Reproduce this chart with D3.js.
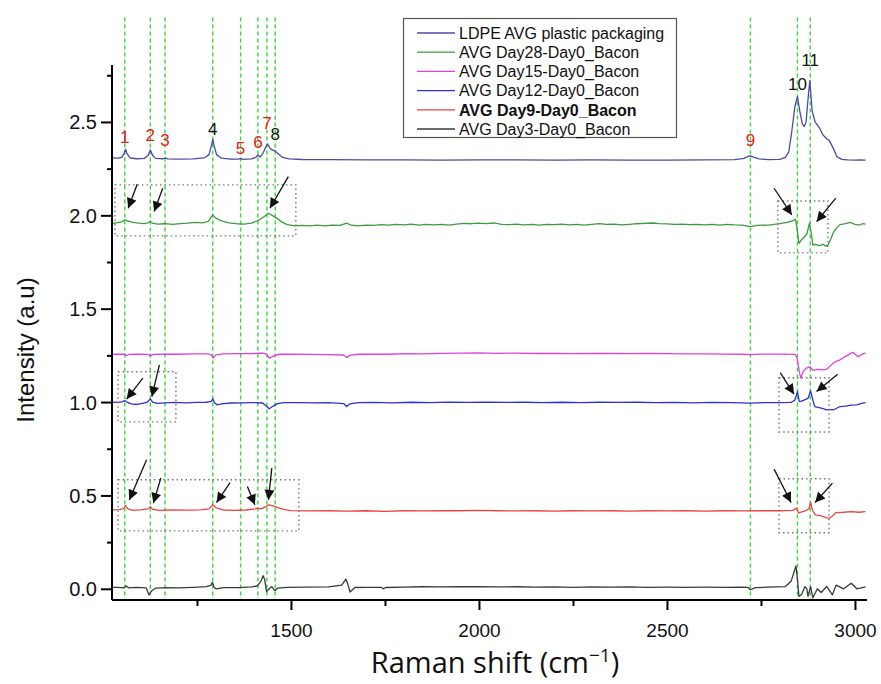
<!DOCTYPE html>
<html>
<head>
<meta charset="utf-8">
<script src="https://cdn.jsdelivr.net/npm/d3@7"></script>
<style>
  body { margin: 0; background: #fff; }
  svg text { font-family: Arial, "Liberation Sans", sans-serif; }
</style>
</head>
<body>
<svg id="chart" width="881" height="684"></svg>
<script>
// spectra: [wavenumber, intensity]
var ldpe = [[1024,2.308],[1040,2.306],[1050,2.31],[1056,2.33],[1060,2.354],[1064,2.33],[1072,2.307],[1090,2.303],[1110,2.305],[1120,2.32],[1126,2.35],[1132,2.32],[1140,2.305],[1160,2.303],[1166,2.308],[1172,2.302],[1200,2.301],[1240,2.302],[1270,2.308],[1282,2.325],[1288,2.37],[1292,2.407],[1296,2.37],[1302,2.325],[1315,2.306],[1340,2.301],[1360,2.301],[1366,2.304],[1372,2.3],[1395,2.302],[1406,2.31],[1412,2.323],[1418,2.312],[1426,2.335],[1434,2.37],[1438,2.382],[1444,2.36],[1450,2.35],[1458,2.345],[1466,2.33],[1478,2.31],[1495,2.302],[1530,2.299],[1600,2.298],[1700,2.297],[1800,2.297],[1900,2.296],[2000,2.297],[2100,2.297],[2200,2.296],[2300,2.297],[2400,2.296],[2500,2.296],[2600,2.297],[2680,2.298],[2705,2.305],[2715,2.315],[2722,2.318],[2730,2.312],[2745,2.302],[2770,2.298],[2800,2.3],[2815,2.31],[2824,2.34],[2832,2.45],[2840,2.58],[2847,2.636],[2853,2.56],[2860,2.49],[2865,2.475],[2870,2.5],[2875,2.62],[2880,2.721],[2886,2.56],[2894,2.5],[2905,2.47],[2915,2.43],[2925,2.41],[2932,2.4],[2942,2.36],[2952,2.314],[2965,2.3],[2980,2.297],[3000,2.296],[3015,2.297],[3028,2.296]];

var day28 = [[1024,1.955],[1035,1.96],[1050,1.965],[1058,1.975],[1066,1.97],[1080,1.962],[1095,1.958],[1110,1.955],[1120,1.96],[1126,1.967],[1132,1.958],[1145,1.953],[1165,1.955],[1185,1.952],[1205,1.956],[1225,1.958],[1245,1.962],[1265,1.96],[1280,1.968],[1292,2.002],[1300,1.985],[1315,1.97],[1335,1.96],[1355,1.955],[1375,1.953],[1395,1.958],[1415,1.975],[1430,1.995],[1440,2.011],[1450,2.0],[1462,1.985],[1475,1.965],[1490,1.95],[1510,1.944],[1530,1.946],[1550,1.943],[1570,1.947],[1590,1.944],[1610,1.948],[1630,1.946],[1648,1.958],[1660,1.947],[1680,1.944],[1700,1.948],[1720,1.946],[1740,1.95],[1760,1.947],[1780,1.951],[1800,1.949],[1820,1.953],[1840,1.948],[1860,1.952],[1880,1.949],[1900,1.951],[1920,1.948],[1940,1.953],[1960,1.957],[1980,1.955],[2000,1.958],[2020,1.956],[2040,1.959],[2060,1.952],[2080,1.95],[2100,1.953],[2120,1.949],[2140,1.951],[2160,1.948],[2180,1.952],[2200,1.95],[2220,1.953],[2240,1.949],[2260,1.951],[2280,1.948],[2300,1.952],[2320,1.955],[2340,1.951],[2360,1.953],[2380,1.949],[2400,1.952],[2420,1.955],[2440,1.957],[2460,1.959],[2480,1.956],[2500,1.954],[2520,1.951],[2540,1.953],[2560,1.95],[2580,1.952],[2600,1.949],[2620,1.951],[2640,1.948],[2660,1.951],[2680,1.949],[2700,1.948],[2722,1.94],[2740,1.946],[2770,1.948],[2800,1.955],[2820,1.962],[2835,1.972],[2842,1.979],[2846,1.93],[2851,1.85],[2858,1.87],[2866,1.885],[2872,1.9],[2879,1.958],[2884,1.9],[2888,1.84],[2895,1.845],[2905,1.838],[2915,1.845],[2922,1.835],[2928,1.84],[2935,1.87],[2942,1.905],[2950,1.93],[2960,1.95],[2975,1.955],[2987,1.962],[3000,1.952],[3013,1.948],[3020,1.955],[3028,1.953]];

var day15 = [[1024,1.255],[1040,1.256],[1058,1.257],[1062,1.248],[1068,1.255],[1090,1.257],[1120,1.255],[1126,1.247],[1134,1.255],[1160,1.257],[1200,1.256],[1240,1.258],[1280,1.258],[1288,1.252],[1293,1.235],[1300,1.253],[1320,1.258],[1360,1.259],[1400,1.26],[1425,1.262],[1436,1.255],[1442,1.235],[1450,1.242],[1458,1.25],[1470,1.256],[1500,1.256],[1550,1.255],[1600,1.254],[1640,1.252],[1648,1.238],[1656,1.25],[1680,1.256],[1720,1.257],[1760,1.256],[1800,1.259],[1850,1.258],[1900,1.261],[1950,1.262],[2000,1.263],[2050,1.261],[2100,1.262],[2150,1.26],[2200,1.261],[2250,1.259],[2300,1.26],[2350,1.261],[2400,1.259],[2450,1.26],[2500,1.259],[2550,1.258],[2600,1.258],[2650,1.257],[2700,1.256],[2722,1.254],[2750,1.257],[2800,1.257],[2840,1.255],[2846,1.24],[2852,1.16],[2856,1.128],[2862,1.163],[2870,1.18],[2880,1.19],[2888,1.17],[2900,1.175],[2915,1.172],[2925,1.176],[2935,1.195],[2942,1.208],[2950,1.218],[2960,1.226],[2975,1.245],[2990,1.262],[2995,1.266],[3008,1.243],[3018,1.255],[3028,1.263]];

var day12 = [[1024,1.0],[1040,0.998],[1052,1.002],[1058,1.008],[1064,1.0],[1075,0.99],[1090,0.987],[1105,0.993],[1118,1.0],[1126,1.017],[1132,1.0],[1145,0.993],[1165,0.996],[1190,0.998],[1220,0.996],[1250,0.998],[1275,0.999],[1288,1.004],[1292,1.017],[1297,0.995],[1304,0.985],[1315,0.99],[1340,0.995],[1370,0.996],[1400,0.997],[1425,0.995],[1436,0.975],[1442,0.964],[1450,0.975],[1458,0.985],[1465,0.992],[1480,0.997],[1520,0.997],[1560,0.996],[1600,0.997],[1640,0.992],[1648,0.976],[1656,0.99],[1680,0.997],[1720,0.998],[1770,0.996],[1820,0.999],[1870,0.997],[1920,1.0],[1970,0.998],[2020,1.0],[2070,0.998],[2120,0.999],[2170,0.997],[2220,0.999],[2270,0.997],[2320,0.999],[2370,0.998],[2420,0.999],[2470,0.997],[2520,0.998],[2570,0.996],[2620,0.998],[2670,0.997],[2722,0.994],[2760,0.997],[2800,0.997],[2830,0.998],[2840,1.01],[2847,1.056],[2852,1.003],[2858,1.005],[2866,1.012],[2875,1.02],[2882,1.06],[2888,1.01],[2893,0.976],[2905,0.97],[2915,0.965],[2925,0.958],[2935,0.96],[2945,0.96],[2960,0.976],[2975,0.978],[2990,0.984],[3005,0.985],[3020,0.994],[3028,0.997]];

var day9 = [[1024,0.423],[1045,0.424],[1055,0.43],[1060,0.446],[1066,0.428],[1080,0.42],[1100,0.423],[1120,0.428],[1126,0.44],[1132,0.425],[1150,0.42],[1180,0.422],[1220,0.421],[1260,0.423],[1282,0.428],[1292,0.45],[1300,0.435],[1320,0.422],[1350,0.42],[1380,0.422],[1405,0.428],[1412,0.432],[1420,0.428],[1434,0.44],[1440,0.45],[1450,0.445],[1465,0.435],[1480,0.425],[1500,0.419],[1540,0.417],[1600,0.418],[1650,0.416],[1700,0.418],[1750,0.415],[1800,0.418],[1850,0.417],[1900,0.419],[1950,0.418],[2000,0.42],[2050,0.418],[2100,0.417],[2150,0.418],[2200,0.416],[2250,0.418],[2300,0.417],[2350,0.418],[2400,0.416],[2450,0.418],[2500,0.417],[2550,0.418],[2600,0.416],[2650,0.418],[2700,0.417],[2750,0.418],[2800,0.418],[2835,0.42],[2845,0.432],[2850,0.405],[2856,0.41],[2870,0.418],[2878,0.43],[2882,0.462],[2887,0.42],[2895,0.396],[2910,0.39],[2925,0.38],[2932,0.378],[2940,0.39],[2950,0.408],[2970,0.41],[2990,0.413],[3010,0.41],[3028,0.413]];

var day3 = [[1024,0.008],[1040,0.008],[1056,0.005],[1062,0.015],[1068,0.005],[1090,0.008],[1115,0.005],[1122,-0.032],[1130,-0.01],[1140,0.004],[1170,0.006],[1200,0.005],[1240,0.008],[1275,0.012],[1288,0.02],[1291,0.035],[1296,0.005],[1302,0.0],[1320,0.006],[1360,0.006],[1395,0.01],[1410,0.015],[1420,0.04],[1426,0.07],[1430,0.05],[1435,-0.015],[1442,0.0],[1449,0.012],[1457,-0.01],[1465,0.004],[1490,0.008],[1540,0.009],[1600,0.01],[1635,0.02],[1646,0.052],[1652,0.02],[1657,-0.017],[1670,0.007],[1700,0.008],[1740,0.008],[1745,0.0],[1752,0.007],[1800,0.009],[1850,0.011],[1900,0.01],[1950,0.012],[2000,0.011],[2050,0.01],[2100,0.011],[2150,0.009],[2200,0.01],[2250,0.008],[2300,0.01],[2350,0.009],[2400,0.01],[2450,0.008],[2500,0.009],[2550,0.008],[2600,0.009],[2650,0.008],[2700,0.009],[2715,0.008],[2722,-0.005],[2735,0.006],[2790,0.01],[2815,0.012],[2830,0.04],[2838,0.09],[2843,0.123],[2847,0.05],[2851,-0.041],[2858,-0.03],[2867,0.012],[2872,0.0],[2875,-0.04],[2882,0.012],[2888,-0.048],[2900,0.0],[2910,-0.02],[2925,0.012],[2940,-0.032],[2950,0.02],[2970,0.0],[2990,0.03],[3005,0.0],[3028,0.01]];

var seriesNames = ["LDPE AVG plastic packaging", "AVG Day28-Day0_Bacon", "AVG Day15-Day0_Bacon",
  "AVG Day12-Day0_Bacon", "AVG Day9-Day0_Bacon", "AVG Day3-Day0_Bacon"];
var seriesColors = ["#4b4ba3", "#3c9b3c", "#e040e0", "#3030d0", "#e84343", "#3a3a3a"];

// band positions (cm-1) and their numbers
var bandPos = [1058, 1126, 1165, 1292, 1366, 1412, 1436, 1458, 2722, 2847, 2881];
var bandLabels = ["1", "2", "3", "4", "5", "6", "7", "8", "9", "10", "11"];
var bandLabelY = [2.388, 2.398, 2.372, 2.431, 2.329, 2.361, 2.463, 2.404, 2.372, 2.672, 2.80];
var bandLabelColors = ["#e02020", "#e02020", "#e02020", "#111", "#e02020", "#e02020", "#e02020", "#111", "#e02020", "#111", "#111"];

// dotted boxes [x0, x1, y0, y1]
var boxes = [[1032, 1513, 1.89, 2.163], [2795, 2928, 1.799, 2.077], [1040, 1194, 0.894, 1.162],
  [2798, 2931, 0.84, 1.13], [1040, 1521, 0.31, 0.584], [2798, 2931, 0.30, 0.589]];

// arrows [tailX, tailY, tipX, tipY]
var arrows = [[1091, 2.166, 1067, 2.038], [1159, 2.145, 1136, 2.02], [1493, 2.207, 1444, 2.038],
  [2785, 2.145, 2832, 2.002], [2949, 2.092, 2898, 1.966],
  [1106, 1.128, 1063, 1.016], [1150, 1.199, 1130, 1.029],
  [2801, 1.158, 2838, 1.042], [2954, 1.149, 2898, 1.056],
  [1116, 0.691, 1070, 0.476], [1154, 0.593, 1134, 0.459], [1338, 0.569, 1302, 0.462],
  [1384, 0.548, 1404, 0.45], [1449, 0.646, 1440, 0.476],
  [2785, 0.641, 2830, 0.462], [2940, 0.566, 2894, 0.462]];

var xTicks = [1500, 2000, 2500, 3000];
var yTicks = [0, 0.5, 1.0, 1.5, 2.0, 2.5];

var svg = d3.select("#chart");
var plotL = 112, plotR = 867, plotT = 65, plotB = 600;

var x = d3.scaleLinear().domain([1024, 3032]).range([plotL, plotR]);
var y = d3.scaleLinear().domain([-0.06, 2.805]).range([plotB, plotT]);

svg.append("defs").append("marker")
  .attr("id", "head")
  .attr("viewBox", "0 0 10 10")
  .attr("refX", 10).attr("refY", 5)
  .attr("markerUnits", "userSpaceOnUse")
  .attr("markerWidth", 12).attr("markerHeight", 10)
  .attr("orient", "auto")
  .append("path").attr("d", "M0,0 L10,5 L0,10 Z").attr("fill", "#111");

// green band markers
svg.append("g").selectAll("line").data(bandPos).join("line")
  .attr("x1", function (d) { return x(d); })
  .attr("x2", function (d) { return x(d); })
  .attr("y1", y(3.06)).attr("y2", plotB)
  .attr("stroke", "#3bd43b").attr("stroke-width", 1.4)
  .attr("stroke-dasharray", "4,3");

// spectra
var line = d3.line().x(function (d) { return x(d[0]); }).y(function (d) { return y(d[1]); });
var allSeries = [ldpe, day28, day15, day12, day9, day3];
svg.append("g").selectAll("path").data(allSeries).join("path")
  .attr("d", line)
  .attr("fill", "none")
  .attr("stroke", function (d, i) { return seriesColors[i]; })
  .attr("stroke-width", 1.3)
  .attr("stroke-linejoin", "round");

// dotted boxes
svg.append("g").selectAll("rect").data(boxes).join("rect")
  .attr("x", function (d) { return x(d[0]); })
  .attr("y", function (d) { return y(d[3]); })
  .attr("width", function (d) { return x(d[1]) - x(d[0]); })
  .attr("height", function (d) { return y(d[2]) - y(d[3]); })
  .attr("fill", "none").attr("stroke", "#777")
  .attr("stroke-width", 1.4).attr("stroke-dasharray", "1.5,3");

// arrows
svg.append("g").selectAll("line").data(arrows).join("line")
  .attr("x1", function (d) { return x(d[0]); })
  .attr("y1", function (d) { return y(d[1]); })
  .attr("x2", function (d) { return x(d[2]); })
  .attr("y2", function (d) { return y(d[3]); })
  .attr("stroke", "#111").attr("stroke-width", 1.3)
  .attr("marker-end", "url(#head)");

// band numbers
svg.append("g").selectAll("text").data(bandPos).join("text")
  .attr("x", function (d) { return x(d); })
  .attr("y", function (d, i) { return y(bandLabelY[i]); })
  .attr("text-anchor", "middle")
  .attr("font-size", "17px")
  .attr("fill", function (d, i) { return bandLabelColors[i]; })
  .text(function (d, i) { return bandLabels[i]; });

// axes
var xAxis = svg.append("g").attr("transform", "translate(0," + plotB + ")");
xAxis.call(d3.axisBottom(x).tickValues(d3.range(1250, 3001, 250)).tickSize(6).tickFormat(""));
xAxis.selectAll(".tick line").attr("stroke-width", 2)
  .attr("y2", function (d) { return xTicks.indexOf(d) >= 0 ? 10 : 6; });
xAxis.selectAll(".tick").filter(function (d) { return xTicks.indexOf(d) >= 0; })
  .append("text").attr("y", 24).attr("dy", "0.71em")
  .attr("fill", "#111").attr("text-anchor", "middle")
  .attr("font-size", "19px").text(function (d) { return d; });
xAxis.select(".domain").attr("stroke-width", 2).attr("d", "M" + plotL + ",0H" + plotR);

var yAxis = svg.append("g").attr("transform", "translate(" + plotL + ",0)");
yAxis.call(d3.axisLeft(y).tickValues(d3.range(0, 2.76, 0.25)).tickSize(5).tickFormat(""));
yAxis.selectAll(".tick line").attr("stroke-width", 2)
  .attr("x2", function (d) { return yTicks.some(function (t) { return Math.abs(t - d) < 1e-6; }) ? -11 : -5; });
yAxis.selectAll(".tick").filter(function (d) { return yTicks.some(function (t) { return Math.abs(t - d) < 1e-6; }); })
  .append("text").attr("x", -15).attr("dy", "0.35em")
  .attr("fill", "#111").attr("text-anchor", "end")
  .attr("font-size", "20px").text(function (d) { return d.toFixed(1); });
yAxis.select(".domain").attr("stroke-width", 2).attr("d", "M0," + plotT + "V" + plotB);

// axis titles
svg.append("text")
  .attr("transform", "translate(34,350) rotate(-90)")
  .attr("text-anchor", "middle").attr("font-size", "24px").attr("fill", "#111")
  .text("Intensity (a.u)");
var xt = svg.append("text")
  .attr("x", 495).attr("y", 673)
  .attr("text-anchor", "middle").attr("font-size", "29px").attr("fill", "#111")
  .style("font-family", "'Open Sans', sans-serif");
xt.append("tspan").text("Raman shift (cm");
xt.append("tspan").attr("dy", -11).attr("font-size", "19px").text("\u22121");
xt.append("tspan").attr("dy", 11).text(")");

// legend
var legend = svg.append("g");
legend.append("rect")
  .attr("x", 403.5).attr("y", 18.5).attr("width", 273).attr("height", 119)
  .attr("fill", "#fff").attr("stroke", "#555").attr("stroke-width", 1.2);
var rows = legend.selectAll("g.row").data(seriesNames).join("g")
  .attr("class", "row")
  .attr("transform", function (d, i) { return "translate(417," + (33 + i * 19.2) + ")"; });
rows.append("line").attr("x1", 0).attr("x2", 38)
  .attr("stroke", function (d, i) { return seriesColors[i]; }).attr("stroke-width", 1.3);
rows.append("text").attr("x", 42).attr("dy", "0.36em")
  .attr("font-size", "16px").attr("fill", "#111")
  .attr("font-weight", function (d, i) { return i === 4 ? "bold" : "normal"; })
  .text(function (d) { return d; });
</script>
</body>
</html>
